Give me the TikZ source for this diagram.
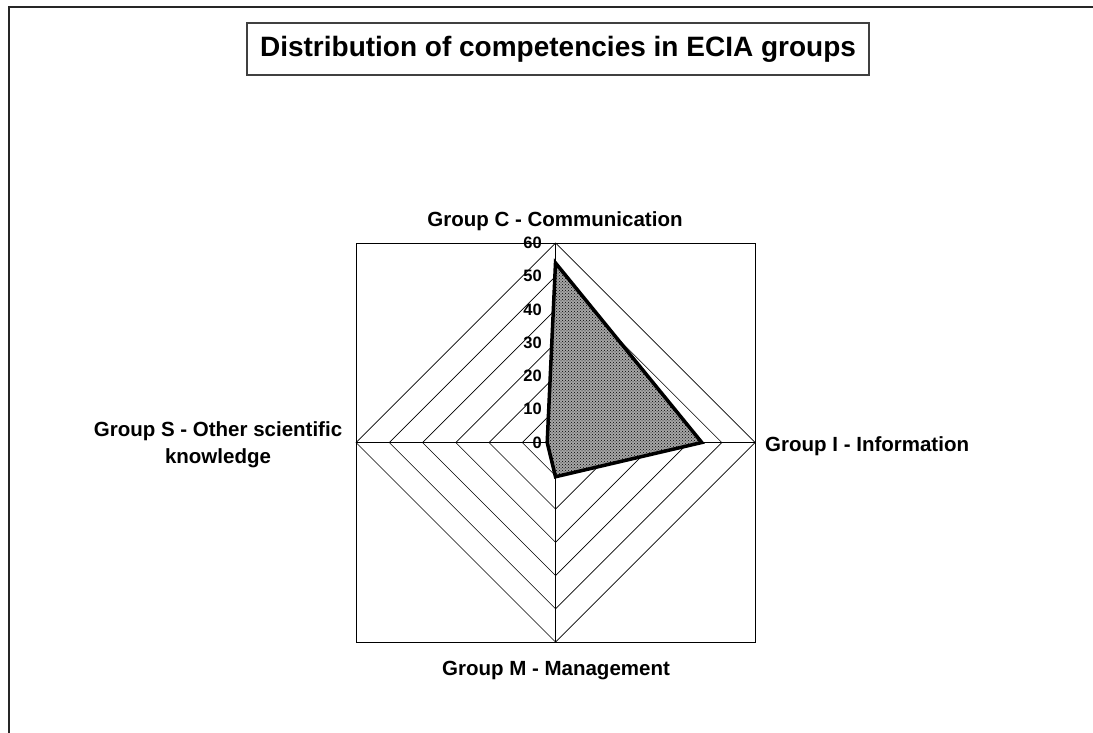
\documentclass[tikz,border=0pt]{standalone}
\usepackage{fontspec}
\setmainfont{Liberation Sans}
\usetikzlibrary{patterns}
\begin{document}
\begin{tikzpicture}[x=1pt,y=-1pt,
  lbl/.style={font=\bfseries\fontsize{20.5}{27}\selectfont, inner sep=0pt, align=center},
  tick/.style={font=\bfseries\fontsize{16.5}{18}\selectfont, anchor=east, inner sep=0pt},
  gridline/.style={line width=0.7pt, black},
  series/.style={line width=3.5pt, black, line join=miter,
     preaction={fill=black!35}, pattern=crosshatch dots, pattern color=black}]
\useasboundingbox (0,0) rectangle (1093,733);
% outer frame (left and top only visible)
\draw[line width=2pt, black!85] (8.5,733) -- (8.5,7.5) -- (1093,7.5);
% title
\node[draw=black!75, line width=1.2pt, font=\bfseries\fontsize{28}{30}\selectfont,
      minimum height=52pt, inner xsep=13pt] (title) at (558,49) {Distribution of competencies in ECIA groups};
% centre
\coordinate (O) at (555.5,442.5);
% plot area square and axes
\draw[gridline] (356,243) rectangle (755,642);
\draw[gridline] (356,442.5) -- (755,442.5);
\draw[gridline] (555.5,243) -- (555.5,642);
% rings
\foreach \r in {1,...,6}
  \draw[gridline] (555.5,{442.5-33.25*\r}) -- ({555.5+33.25*\r},442.5)
     -- (555.5,{442.5+33.25*\r}) -- ({555.5-33.25*\r},442.5) -- cycle;
% data
\coordinate (dC) at (555.5,{442.5-3.325*54});
\coordinate (dI) at ({555.5+3.325*44},442.5);
\coordinate (dM) at (555.5,{442.5+3.325*10.3});
\coordinate (dS) at ({555.5-3.325*2.5},442.5);
\draw[series] (dC) -- (dI) -- (dM) -- (dS) -- cycle;
% tick labels
\foreach \v in {0,10,...,60}
  \node[tick] (t\v) at (542,{442.5-3.325*\v}) {\v};
% axis labels
\node[lbl, anchor=base] (labC) at (555,226) {Group C - Communication};
\node[lbl, anchor=base west] (labI) at (765,451.7) {Group I - Information};
\node[lbl, anchor=base] (labM) at (556,675.7) {Group M - Management};
\node[lbl, anchor=north] (labS) at (218,421.5) {Group S - Other scientific\\knowledge};
\end{tikzpicture}
\end{document}
